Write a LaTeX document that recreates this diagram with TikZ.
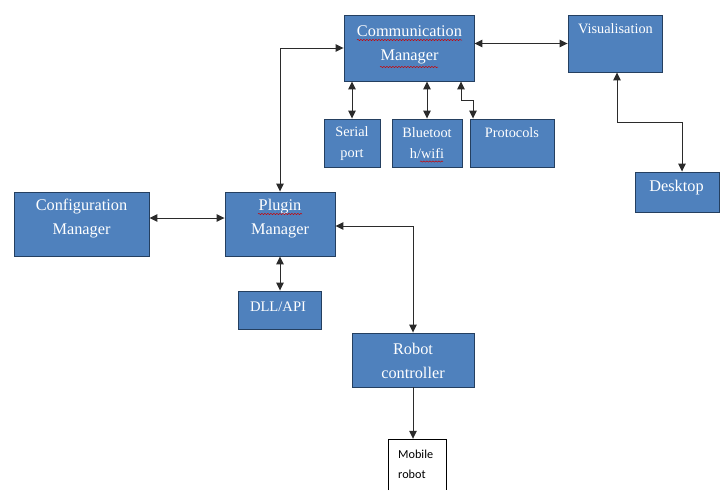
\documentclass[tikz,border=0pt]{standalone}
\usepackage{fontspec}
\setmainfont{Liberation Serif}
\newfontfamily\tnr{Liberation Serif}
\newfontfamily\calib{Carlito}
\usetikzlibrary{arrows.meta,decorations.pathmorphing,calc}
\definecolor{boxblue}{HTML}{4F81BD}
\definecolor{boxline}{HTML}{243F60}
\definecolor{wire}{HTML}{2B2B2B}
\tikzset{
  blk/.style={draw=boxline,fill=boxblue,line width=0.9pt,inner sep=0pt},
  big/.style={text=white,align=center,inner sep=0pt,font=\tnr\fontsize{16.3}{24}\selectfont},
  small/.style={text=white,align=center,inner sep=0pt,font=\tnr\fontsize{14.3}{21}\selectfont},
  wirestyle/.style={draw=wire,line width=1pt,arrows={Triangle[length=8pt,width=7.5pt]-Triangle[length=8pt,width=7.5pt]}},
  onewire/.style={draw=wire,line width=1pt,-{Triangle[length=8pt,width=7.5pt]}},
  spell/.style={draw=red!80!black,line width=0.5pt,decorate,decoration={snake,amplitude=0.6pt,segment length=3pt}}
}
\begin{document}
\begin{tikzpicture}[x=1pt,y=-1pt]
\useasboundingbox[fill=white] (0,0) rectangle (722,490);
% boxes
\node[blk,minimum width=130pt,minimum height=66pt] (cm) at (409,48) {};
\node[blk,minimum width=94pt,minimum height=57pt] (vis) at (615,43.5) {};
\node[blk,minimum width=56pt,minimum height=48pt] (sp) at (352,143) {};
\node[blk,minimum width=70pt,minimum height=48pt] (bt) at (427,143) {};
\node[blk,minimum width=84pt,minimum height=48pt] (pr) at (512,143) {};
\node[blk,minimum width=84pt,minimum height=40pt] (desk) at (677,192) {};
\node[blk,minimum width=135pt,minimum height=64pt] (conf) at (81.5,224) {};
\node[blk,minimum width=110pt,minimum height=64pt] (plug) at (280,224) {};
\node[blk,minimum width=83pt,minimum height=38pt] (dll) at (279.5,310) {};
\node[blk,minimum width=122pt,minimum height=54pt] (rc) at (413,360) {};
\node[inner sep=0pt,minimum width=58pt,minimum height=51pt] (mob) at (417,464.5) {};
\draw[black,line width=0.6pt] (mob.south west) -- (mob.north west) -- (mob.north east) -- (mob.south east);
% texts
\node[big] (tcm) at (409.5,45) {Communication\\Manager};
\node[small] (tvis) at (615.5,29) {Visualisation};
\node[small] (tsp) at (352,143.5) {Serial\\port};
\node[small] (tbt) at (427,143.5) {Bluetoot\\h/wifi};
\node[small] (tpr) at (512,133) {Protocols};
\node[big] (tdesk) at (676.5,187.5) {Desktop};
\node[big] (tconf) at (81.5,219) {Configuration\\Manager};
\node[big] (tplug) at (280,219) {Plugin\\Manager};
\node[small,font=\tnr\fontsize{14.6}{20}\selectfont] (tdll) at (278,307) {DLL/API};
\node[big] (trc) at (413,360.5) {Robot\\controller};
\node[inner sep=0pt,anchor=west,align=left,font=\calib\fontsize{12.2}{20}\selectfont] (tmob) at (398,464) {Mobile\\robot};
% spell-check underlines
\draw[spell] (357,40) -- (462,40);
\draw[spell] (380,67) -- (438,67);
\draw[spell] (258,214) -- (302,214);
\draw[spell] (420,161.5) -- (443,161.5);
% connectors
\draw[wirestyle] (plug.north) |- (cm.west);
\draw[wirestyle] (cm.east|-vis.west) -- (vis.west);
\draw[wirestyle] (cm.south-|sp.north) -- (sp.north);
\draw[wirestyle] (cm.south-|bt.north) -- (bt.north);
\draw[wirestyle] ([xshift=52pt]cm.south) -- ++(0,19) -| ([xshift=-39pt]pr.north);
\draw[wirestyle] ([xshift=2pt]vis.south) -- ++(0,50) -| ([xshift=5pt]desk.north);
\draw[wirestyle] ([yshift=6pt]conf.east) -- ([yshift=6pt]plug.west);
\draw[wirestyle] ([yshift=-2pt]plug.east) -| (rc.north);
\draw[wirestyle] (plug.south) -- (plug.south|-dll.north);
\draw[onewire] (rc.south) -- (rc.south|-mob.north);
\end{tikzpicture}
\end{document}
